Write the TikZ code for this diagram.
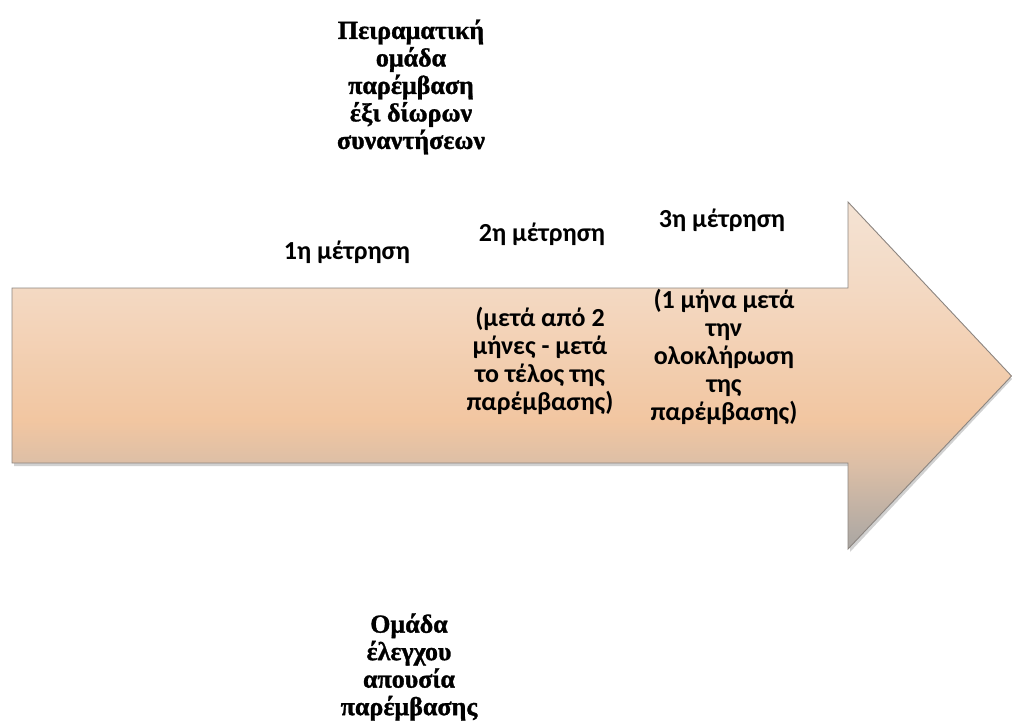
\documentclass[tikz,border=0pt]{standalone}
\usepackage{fontspec}
\newfontfamily\grserif[BoldFeatures={FakeBold=1.2}]{Liberation Serif}
\newfontfamily\grsans{Carlito}
\definecolor{cTop}{HTML}{F4E3D4}
\definecolor{cShaftTop}{HTML}{F3D9C3}
\definecolor{cPeach}{HTML}{F2C6A1}
\definecolor{cShaftBot}{HTML}{DDBFA6}
\definecolor{cBot}{HTML}{A9A6A3}
\definecolor{cEdge}{HTML}{8C8580}
\pgfdeclareverticalshading{arrowshade}{100bp}{color(0bp)=(cBot); color(25bp)=(cBot); color(37.4bp)=(cShaftBot); color(43.6bp)=(cPeach); color(62.6bp)=(cShaftTop); color(75bp)=(cTop); color(100bp)=(cTop)}
\tikzset{
  seriflabel/.style={align=center, inner sep=0pt, font=\grserif\bfseries\fontsize{26}{27.5}\selectfont},
  sanslabel/.style={align=center, inner sep=0pt, font=\grsans\bfseries\fontsize{26}{28}\selectfont},
}
\begin{document}
\begin{tikzpicture}[x=1pt,y=-1pt]
\useasboundingbox (0,0) rectangle (1012,722);
% shadow
\fill[black,opacity=0.18] (14,291) -- (850,291) -- (850,205) -- (1012,379) -- (850,552) -- (850,466) -- (14,466) -- cycle;
% arrow
\path[shading=arrowshade, draw=cEdge, line width=0.9pt]
  (12,288) -- (848,288) -- (848,202) -- (1011.5,376) -- (848,549) -- (848,463) -- (12,463) -- cycle;
% labels
\node[seriflabel] (exp) at (411,87) {Πειραματική\\ομάδα\\παρέμβαση\\έξι δίωρων\\συναντήσεων};
\node[seriflabel] (ctrl) at (409,667) {Ομάδα\\έλεγχου\\απουσία\\παρέμβασης};
\node[sanslabel] (m1) at (347,252) {1η μέτρηση};
\node[sanslabel] (m2) at (542,234) {2η μέτρηση};
\node[sanslabel] (m3) at (722,220) {3η μέτρηση};
\node[sanslabel] (d2) at (540,361) {(μετά από 2\\μήνες - μετά\\το τέλος της\\παρέμβασης)};
\node[sanslabel] (d3) at (724,357) {(1 μήνα μετά\\την\\ολοκλήρωση\\της\\παρέμβασης)};
\end{tikzpicture}
\end{document}
